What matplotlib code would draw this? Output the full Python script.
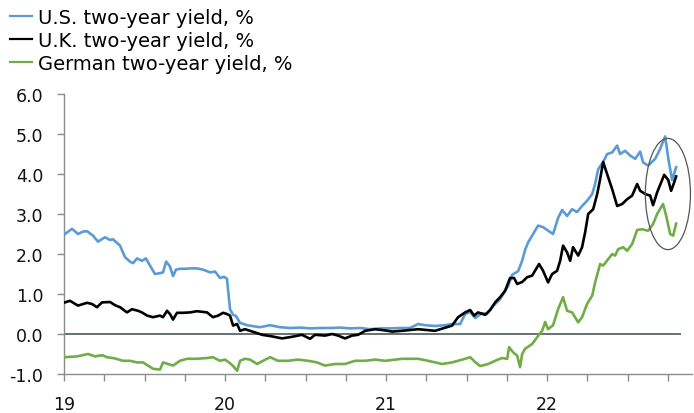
import numpy as np
import matplotlib
matplotlib.use("Agg")
import matplotlib.pyplot as plt
from matplotlib.patches import Ellipse
from matplotlib.ticker import MultipleLocator

# two-year government bond yields, weekly-ish readings (time in years, 19 = 2019)
us_t = [19.006, 19.050, 19.087, 19.118, 19.143, 19.180, 19.211, 19.255, 19.286, 19.304,
        19.348, 19.379, 19.410, 19.429, 19.453, 19.484, 19.509, 19.534, 19.565, 19.596,
        19.615, 19.634, 19.658, 19.677, 19.696, 19.720, 19.752, 19.783, 19.826, 19.863,
        19.907, 19.938, 19.969, 19.994, 20.012, 20.031, 20.050, 20.068, 20.093, 20.137,
        20.168, 20.217, 20.280, 20.342, 20.404, 20.466, 20.528, 20.590, 20.652, 20.714,
        20.776, 20.839, 20.901, 20.963, 21.025, 21.087, 21.149, 21.199, 21.242, 21.304,
        21.366, 21.410, 21.460, 21.491, 21.522, 21.553, 21.596, 21.627, 21.665, 21.708,
        21.739, 21.758, 21.783, 21.820, 21.845, 21.863, 21.882, 21.907, 21.944, 21.975,
        22.000, 22.037, 22.068, 22.093, 22.124, 22.155, 22.186, 22.217, 22.248, 22.280,
        22.298, 22.317, 22.348, 22.373, 22.404, 22.435, 22.453, 22.484, 22.516, 22.547,
        22.578, 22.596, 22.627, 22.671, 22.702, 22.733, 22.752, 22.776, 22.801]
us_v = [2.50, 2.63, 2.50, 2.56, 2.57, 2.46, 2.31, 2.42, 2.35, 2.37,
        2.21, 1.92, 1.81, 1.77, 1.89, 1.83, 1.89, 1.71, 1.50, 1.52,
        1.54, 1.81, 1.69, 1.45, 1.61, 1.63, 1.63, 1.64, 1.64, 1.61,
        1.54, 1.56, 1.40, 1.43, 1.38, 0.62, 0.48, 0.45, 0.28, 0.22,
        0.20, 0.17, 0.22, 0.17, 0.15, 0.16, 0.14, 0.15, 0.15, 0.16,
        0.14, 0.15, 0.12, 0.14, 0.14, 0.15, 0.15, 0.25, 0.22, 0.20,
        0.22, 0.25, 0.25, 0.50, 0.55, 0.40, 0.52, 0.50, 0.70, 0.87,
        1.08, 1.20, 1.48, 1.57, 1.83, 2.10, 2.29, 2.46, 2.71, 2.67,
        2.60, 2.50, 2.90, 3.10, 2.95, 3.12, 3.05, 3.20, 3.33, 3.50,
        3.75, 4.12, 4.30, 4.50, 4.54, 4.71, 4.50, 4.58, 4.46, 4.38,
        4.56, 4.29, 4.21, 4.38, 4.63, 4.94, 4.40, 3.85, 4.17]

uk_t = [19.006, 19.037, 19.087, 19.143, 19.174, 19.205, 19.236, 19.286, 19.317, 19.348,
        19.391, 19.422, 19.460, 19.484, 19.516, 19.553, 19.596, 19.615, 19.640, 19.658,
        19.677, 19.702, 19.739, 19.783, 19.826, 19.888, 19.925, 19.957, 19.988, 20.012,
        20.031, 20.050, 20.075, 20.093, 20.124, 20.186, 20.230, 20.292, 20.354, 20.416,
        20.478, 20.528, 20.559, 20.621, 20.665, 20.702, 20.745, 20.789, 20.826, 20.870,
        20.932, 20.994, 21.037, 21.099, 21.199, 21.304, 21.410, 21.447, 21.491, 21.522,
        21.547, 21.571, 21.615, 21.646, 21.677, 21.708, 21.739, 21.770, 21.795, 21.814,
        21.845, 21.876, 21.907, 21.950, 21.975, 22.006, 22.031, 22.062, 22.081, 22.099,
        22.124, 22.143, 22.161, 22.193, 22.217, 22.236, 22.255, 22.286, 22.311, 22.329,
        22.348, 22.379, 22.404, 22.435, 22.466, 22.497, 22.528, 22.559, 22.578, 22.609,
        22.640, 22.658, 22.683, 22.708, 22.727, 22.752, 22.770, 22.789, 22.801]
uk_v = [0.79, 0.83, 0.71, 0.78, 0.75, 0.67, 0.79, 0.80, 0.72, 0.67,
        0.54, 0.62, 0.58, 0.54, 0.46, 0.42, 0.46, 0.42, 0.58, 0.50,
        0.36, 0.53, 0.53, 0.54, 0.57, 0.54, 0.42, 0.46, 0.53, 0.50,
        0.46, 0.21, 0.25, 0.08, 0.12, 0.04, -0.02, -0.06, -0.11, -0.07,
        -0.02, -0.12, -0.02, -0.04, 0.00, -0.04, -0.11, -0.04, -0.02, 0.08,
        0.12, 0.09, 0.06, 0.08, 0.12, 0.08, 0.21, 0.42, 0.54, 0.60,
        0.46, 0.54, 0.48, 0.60, 0.79, 0.92, 1.08, 1.40, 1.40, 1.25,
        1.30, 1.42, 1.46, 1.75, 1.58, 1.29, 1.50, 1.58, 1.83, 2.21,
        2.04, 1.83, 2.17, 1.96, 2.17, 2.54, 3.00, 3.12, 3.50, 3.87,
        4.30, 3.92, 3.62, 3.20, 3.25, 3.37, 3.46, 3.75, 3.58, 3.50,
        3.46, 3.22, 3.54, 3.79, 3.98, 3.85, 3.58, 3.79, 3.94]

de_t = [19.006, 19.081, 19.149, 19.193, 19.236, 19.267, 19.317, 19.366, 19.410, 19.453,
        19.491, 19.522, 19.553, 19.596, 19.615, 19.646, 19.677, 19.720, 19.764, 19.826,
        19.888, 19.925, 19.969, 20.000, 20.031, 20.050, 20.075, 20.093, 20.124, 20.155,
        20.199, 20.236, 20.280, 20.329, 20.391, 20.453, 20.516, 20.571, 20.621, 20.683,
        20.745, 20.807, 20.870, 20.932, 20.994, 21.099, 21.199, 21.261, 21.348, 21.410,
        21.491, 21.522, 21.553, 21.584, 21.634, 21.677, 21.720, 21.752, 21.764, 21.789,
        21.814, 21.832, 21.845, 21.863, 21.907, 21.938, 21.969, 21.988, 22.006, 22.037,
        22.068, 22.099, 22.124, 22.155, 22.193, 22.217, 22.248, 22.280, 22.298, 22.329,
        22.348, 22.379, 22.404, 22.422, 22.441, 22.472, 22.497, 22.528, 22.559, 22.590,
        22.627, 22.658, 22.683, 22.720, 22.739, 22.764, 22.783, 22.801]
de_v = [-0.58, -0.56, -0.50, -0.56, -0.53, -0.58, -0.61, -0.67, -0.67, -0.71,
        -0.71, -0.79, -0.87, -0.89, -0.71, -0.75, -0.79, -0.67, -0.62, -0.62,
        -0.60, -0.58, -0.67, -0.64, -0.73, -0.80, -0.92, -0.67, -0.62, -0.64,
        -0.75, -0.67, -0.58, -0.67, -0.67, -0.64, -0.67, -0.71, -0.79, -0.75,
        -0.75, -0.67, -0.67, -0.64, -0.67, -0.62, -0.62, -0.67, -0.75, -0.71,
        -0.62, -0.58, -0.70, -0.80, -0.75, -0.67, -0.60, -0.62, -0.33, -0.46,
        -0.54, -0.83, -0.50, -0.37, -0.25, -0.08, 0.08, 0.30, 0.12, 0.22,
        0.62, 0.92, 0.58, 0.54, 0.29, 0.42, 0.75, 0.96, 1.29, 1.75,
        1.71, 1.87, 2.00, 1.96, 2.12, 2.17, 2.08, 2.25, 2.60, 2.62,
        2.58, 2.75, 3.00, 3.25, 2.96, 2.50, 2.46, 2.76]

labels = ["U.S. two-year yield, %", "U.K. two-year yield, %", "German two-year yield, %"]
year_labels = ["19", "20", "21", "22"]

fig = plt.figure(figsize=(6.94, 4.14), dpi=100)
ax = fig.add_axes([0.0922, 0.0942, 0.905, 0.6763])

ax.plot(us_t, us_v, color="#5b9bd5", lw=1.9, label=labels[0], zorder=3)
ax.plot(uk_t, uk_v, color="black", lw=1.9, label=labels[1], zorder=4)
ax.plot(de_t, de_v, color="#70ad47", lw=1.9, label=labels[2], zorder=3)

# zero line runs only a little past the last observation
ax.hlines(0, 19, us_t[-1] + 0.03, color="#4a5a5a", lw=1.2, zorder=2)

# circle round the latest moves
ax.add_patch(Ellipse((22.75, 3.5), 0.28, 2.78, fill=False, ec="#555555", lw=0.9, zorder=5))

ax.set_xlim(19, 22.9)
ax.set_ylim(-1, 6)
ax.set_yticks(np.arange(-1, 6.5, 1))
ax.set_yticklabels([f"{v:.1f}" for v in np.arange(-1, 6.5, 1)])
ax.set_xticks([19, 20, 21, 22])
ax.set_xticklabels(year_labels)
ax.xaxis.set_minor_locator(MultipleLocator(0.25))

for s in ["top", "right"]:
    ax.spines[s].set_visible(False)
for s in ["left", "bottom"]:
    ax.spines[s].set_color("#8c8c8c")
    ax.spines[s].set_linewidth(1.0)

ax.tick_params(axis="both", which="both", direction="out", length=5, width=1,
               color="#8c8c8c", labelsize=12.5, labelcolor="#111111")
ax.tick_params(axis="y", pad=10)
ax.tick_params(axis="x", pad=10)

leg = fig.legend(loc="upper left", bbox_to_anchor=(0.0144, 0.978), frameon=False,
                 fontsize=14, handlelength=1.13, handletextpad=0.3, labelspacing=0.2,
                 borderaxespad=0, borderpad=0)
for line in leg.get_lines():
    line.set_linewidth(1.6)

fig.savefig("out.png", dpi=100)
